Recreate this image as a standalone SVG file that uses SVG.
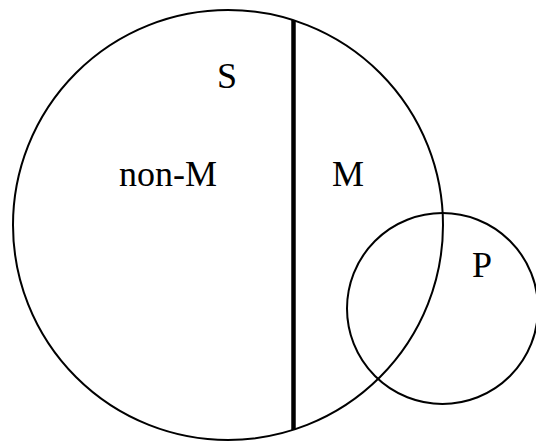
<svg xmlns="http://www.w3.org/2000/svg" width="536" height="442" viewBox="0 0 536 442">
<style>
.c{fill:none;stroke:#000;stroke-width:2}
.t{font-family:"Liberation Serif","Times New Roman",serif;font-size:36px;fill:#000}
</style>
<rect width="536" height="442" fill="#fff"/>
<g id="S">
<circle class="c" cx="228" cy="225" r="215"/>
<text class="t" x="217" y="88">S</text>
</g>
<g id="P">
<circle class="c" cx="442.5" cy="308.5" r="95.5"/>
<text class="t" x="472" y="277">P</text>
</g>
<g id="divider">
<line x1="293.5" y1="20" x2="293.5" y2="430" stroke="#000" stroke-width="4.5"/>
</g>
<g id="labels">
<text class="t" x="119" y="186">non-M</text>
<text class="t" x="332" y="186">M</text>
</g>
</svg>
